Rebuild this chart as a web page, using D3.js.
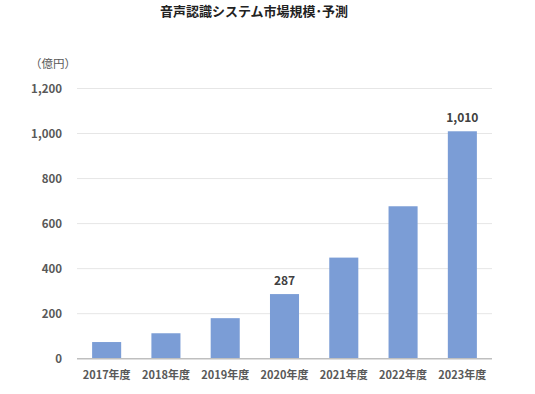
<!DOCTYPE html>
<html>
<head>
<meta charset="utf-8">
<script src="https://cdn.jsdelivr.net/npm/d3@7"></script>
<style>
  body { margin: 0; background: #fff; }
  svg text { font-family: "Noto Sans CJK JP", "Noto Sans", sans-serif; }
</style>
</head>
<body>
<svg id="chart"></svg>
<script>
// data
const years = ['2017年度', '2018年度', '2019年度', '2020年度', '2021年度', '2022年度', '2023年度'];
const values = [74, 113, 180, 287, 449, 677, 1010];
const labelled = ['2020年度', '2023年度'];   // only these bars carry a value label
const yTicks = [0, 200, 400, 600, 800, 1000, 1200];

const width = 535, height = 394;
const margin = {top: 88.5, right: 43, bottom: 35.3, left: 77};

const svg = d3.select('#chart')
  .attr('width', width)
  .attr('height', height);

const x = d3.scaleBand()
  .domain(years)
  .range([margin.left, width - margin.right])
  .paddingInner(0.51)
  .paddingOuter(0.255);

const y = d3.scaleLinear()
  .domain([0, 1200])
  .range([height - margin.bottom, margin.top]);

//------gridlines
svg.append('g')
  .selectAll('line')
  .data(yTicks.filter(d => d > 0))
  .join('line')
    .attr('x1', margin.left)
    .attr('x2', width - margin.right)
    .attr('y1', d => y(d))
    .attr('y2', d => y(d))
    .attr('stroke', '#e6e6e6')
    .attr('stroke-width', 1);

//------bars
svg.append('g')
  .selectAll('rect')
  .data(values)
  .join('rect')
    .attr('x', (d, i) => x(years[i]))
    .attr('y', d => y(d))
    .attr('width', x.bandwidth())
    .attr('height', d => y(0) - y(d))
    .attr('fill', '#7b9dd6');

//------baseline
svg.append('line')
  .attr('x1', margin.left)
  .attr('x2', width - margin.right)
  .attr('y1', y(0))
  .attr('y2', y(0))
  .attr('stroke', '#bfbfbf')
  .attr('stroke-width', 1.5);

//------y axis labels
const yAxis = d3.axisLeft(y)
  .tickValues(yTicks)
  .tickFormat(d3.format(','))
  .tickSize(0)
  .tickPadding(15);
svg.append('g')
  .attr('transform', `translate(${margin.left},0)`)
  .call(yAxis)
  .call(g => g.select('.domain').remove())
  .call(g => g.selectAll('text')
    .attr('fill', '#595959')
    .attr('font-size', 11.5)
    .attr('font-weight', 'bold'));

//------x axis labels
const xAxis = d3.axisBottom(x).tickSize(0).tickPadding(13);
svg.append('g')
  .attr('transform', `translate(0,${y(0)})`)
  .call(xAxis)
  .call(g => g.select('.domain').remove())
  .call(g => g.selectAll('text')
    .attr('fill', '#595959')
    .attr('font-size', 11)
    .attr('font-weight', 'bold'));

//------value labels
svg.append('g')
  .selectAll('text')
  .data(values.map((v, i) => ({year: years[i], v})).filter(d => labelled.includes(d.year)))
  .join('text')
    .attr('x', d => x(d.year) + x.bandwidth() / 2)
    .attr('y', d => y(d.v) - 9)
    .attr('text-anchor', 'middle')
    .attr('fill', '#404040')
    .attr('font-size', 12)
    .attr('font-weight', 'bold')
    .text(d => d3.format(',')(d.v));

//------unit
svg.append('text')
  .attr('x', 30)
  .attr('y', 68)
  .attr('fill', '#595959')
  .attr('font-size', 11.5)
  .text('（億円）');

//------title
svg.append('text')
  .attr('x', 254)
  .attr('y', 16)
  .attr('text-anchor', 'middle')
  .attr('fill', '#222')
  .attr('font-size', 13)
  .attr('font-weight', 'bold')
  .text('音声認識システム市場規模･予測');
</script>
</body>
</html>
